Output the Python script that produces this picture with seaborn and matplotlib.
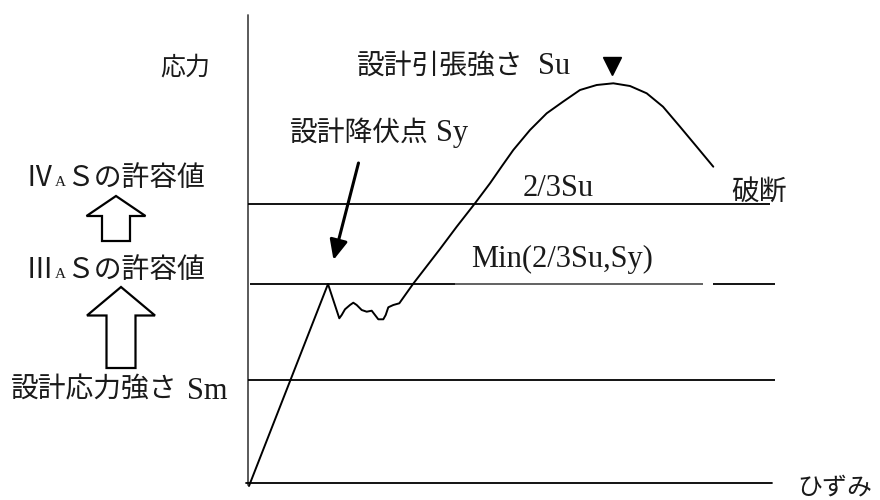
import matplotlib
matplotlib.use("Agg")
import matplotlib.pyplot as plt
import seaborn as sns
import pandas as pd
from matplotlib.patches import FancyArrow

# ---- data (schematic stress-strain diagram, drawn in a pixel-like data space) ----
strain = [249, 328, 339.3, 341.7, 345, 350, 353.3, 356.7, 361.7, 366.7, 371.7, 375,
          378.3, 383.3, 385.7, 388.3, 393.3, 399.3, 413, 440, 456.7, 475, 490, 502, 513.3,
          530, 546.7, 563, 580, 596.7, 613.3, 630, 646.7, 663, 680, 696.7, 713.3]
stress = [486, 284, 318.3, 315, 309.3, 305, 302.7, 305, 310, 311.7, 310.7, 315,
          319.3, 319.3, 315, 307.3, 305, 303.3, 284, 249, 226.7, 203.3, 183.3, 166, 150,
          130, 113.3, 101.7, 90, 85, 83.3, 86, 93.3, 106.7, 126.7, 146.7, 166.7]

# horizontal reference levels: 2/3Su, Sm
level_y = [204, 380]
level_x0 = [248, 248]
level_x1 = [770, 775]
# Min(2/3Su,Sy) level drawn in pieces as in the original
min_seg_x0 = [250, 455, 713]
min_seg_x1 = [455, 703, 775]
min_seg_color = ["black", "#555555", "black"]
min_level_y = 283.5

axis_origin = (248, 483)
axis_top = 15
axis_right = 772

peak_marker_x = [612]
peak_marker_y = [66]

# ---- figure ----
sns.set_theme(style="white")
SERIF = ["Liberation Serif", "Noto Sans CJK JP"]
SANS = ["Noto Sans CJK JP", "DejaVu Sans"]
plt.rcParams["font.family"] = SERIF

fig = plt.figure(figsize=(8.8, 5), dpi=100)
ax = fig.add_axes([0, 0, 1, 1])

# axes of the diagram
ax.plot([axis_origin[0], axis_origin[0]], [axis_top, axis_origin[1] + 2],
        color="#4d4d4d", lw=1.3)
ax.plot([axis_origin[0] - 2, axis_right], [axis_origin[1], axis_origin[1]],
        color="black", lw=1.3)

# reference levels
ax.hlines(level_y, level_x0, level_x1, color="black", lw=1.3)
for x0, x1, c in zip(min_seg_x0, min_seg_x1, min_seg_color):
    ax.hlines(min_level_y, x0, x1, color=c, lw=1.3)

# stress-strain curve
df = pd.DataFrame({"strain": strain, "stress": stress})
sns.lineplot(data=df, x="strain", y="stress", sort=False, ax=ax,
             color="black", lw=1.4, estimator=None)

# peak marker
ax.plot(peak_marker_x, peak_marker_y, marker="v", ms=13.5, color="black", ls="none")

# arrow to yield point
ax.annotate("", xy=(333.5, 260), xytext=(358.5, 163),
            arrowprops=dict(arrowstyle="-|>,head_length=1.0,head_width=0.45",
                            color="black", lw=2.2, shrinkA=0, shrinkB=0))

# hollow upward arrows on the left
ax.add_patch(FancyArrow(116, 241, 0, -45, width=28, head_width=59, head_length=20,
                        length_includes_head=True, fill=False, ec="black", lw=1.6))
ax.add_patch(FancyArrow(121, 368, 0, -81, width=29, head_width=68, head_length=28.5,
                        length_includes_head=True, fill=False, ec="black", lw=1.6))

ax.set_xlim(0, 880)
ax.set_ylim(500, 0)
ax.axis("off")

# texts
TC = "#1a1a1a"
FJ = 20   # japanese
FL = 22   # latin


def put(x, y, s, fam, fs):
    ax.text(x, y, s, family=fam, fontsize=fs, ha="left", va="baseline", color=TC)


put(160, 75, "応力", SANS, 18)
put(357, 74, "設計引張強さ", SERIF, FJ)
put(538, 74, "Su", SERIF, FL)
put(290, 141, "設計降伏点", SERIF, FJ)
put(436, 141, "Sy", SERIF, FL)
put(523, 196, "2/3Su", SERIF, FL)
put(731, 200, "破断", SERIF, FJ)
put(471, 267, "Min(2/3Su,Sy)", SERIF, FL)
put(11, 397, "設計応力強さ", SERIF, FJ)
put(187, 399, "Sm", SERIF, FL)
put(797, 495, "ひずみ", SANS, 18)

# allowable limit labels (roman numeral + small A + rest)
for numeral, yb in (("Ⅳ", 186), ("Ⅲ", 278)):
    put(26, yb, numeral, SERIF, FJ)
    put(55, yb, "A", SERIF, 11)
    put(66, yb, "Ｓの許容値", SERIF, FJ)

fig.savefig("out.png", dpi=100)
